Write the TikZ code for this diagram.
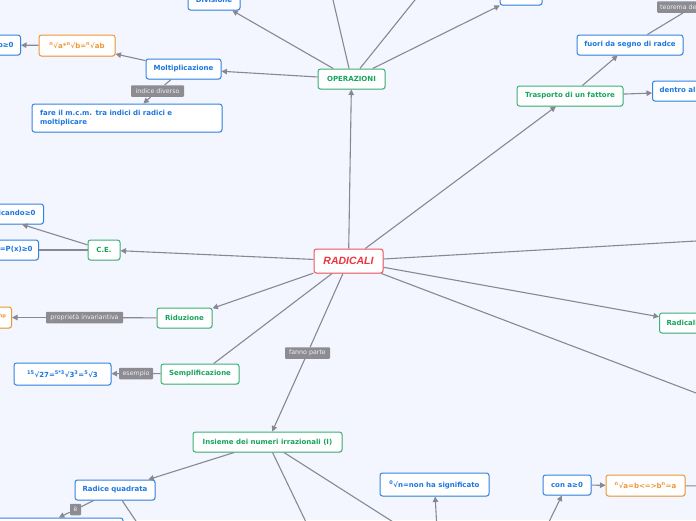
\documentclass[tikz,border=0pt]{standalone}
\usepackage{fontspec}
\setmainfont{DejaVu Sans}
\newfontfamily\radfont{Liberation Sans}
\usetikzlibrary{arrows.meta,shadows}
\definecolor{bg}{RGB}{243,246,254}
\definecolor{grn}{RGB}{24,163,92}
\definecolor{blu}{RGB}{28,118,224}
\definecolor{org}{RGB}{240,150,52}
\definecolor{rd}{RGB}{238,52,62}
\definecolor{labg}{RGB}{140,140,146}
\definecolor{lc}{RGB}{136,136,148}
\tikzset{
  box/.style={draw, rounded corners=2.5pt, fill=white, line width=1pt, inner sep=0pt,
    font=\bfseries\fontsize{7}{9}\selectfont,
    drop shadow={shadow xshift=0.6pt,shadow yshift=-0.9pt,opacity=0.18}},
  gbox/.style={box, draw=grn!85, text=grn},
  bbox/.style={box, draw=blu!90, text=blu},
  obox/.style={box, draw=org, text=org},
  rbox/.style={box, draw=rd!85, text=rd, font=\radfont\bfseries\itshape\fontsize{10.5}{12}\selectfont},
  lab/.style={fill=labg, text=white!94!black, font=\fontsize{6.3}{7}\selectfont, inner sep=0pt,
    minimum height=11.5, rounded corners=0.8pt},
  conn/.style={draw=lc, line width=1.1pt},
  arr/.style={conn, -{Triangle[length=5.5pt,width=5.5pt]}}
}
\begin{document}
\begin{tikzpicture}[x=1pt,y=-1pt]
\fill[bg] (0,0) rectangle (696,520);
\useasboundingbox (0,0) rectangle (696,520);
\clip (0,0) rectangle (696,520);

% nodes
\node[rbox, minimum width=69, minimum height=24] (rad) at (348.5,261) {RADICALI};
\node[gbox, minimum width=67, minimum height=20] (ops) at (351.5,79) {OPERAZIONI};
\node[bbox, minimum width=52, minimum height=20] (div) at (214,0) {Divisione};
\node[bbox, minimum width=42, minimum height=20] (topn) at (521,-5) {};
\node[bbox, minimum width=75, minimum height=20] (molt) at (183.5,69) {Moltiplicazione};
\node[obox, minimum width=76, minimum height=21] (or1) at (77,45.5) {\textsuperscript{n}√a*\textsuperscript{n}√b=\textsuperscript{n}√ab};
\node[bbox, anchor=east, minimum height=20, inner xsep=7pt] (lft1) at (21,45) {con a≥0 e b≥0};
\node[lab, minimum width=53] (lab1) at (157.5,91) {indice diverso};
\node[bbox, minimum width=190, minimum height=28, text width=174, align=left] (fare) at (127,118)
  {fare il m.c.m. tra indici di radici e\\moltiplicare};

\node[gbox, minimum width=106, minimum height=20] (tras) at (570,96) {Trasporto di un fattore};
\node[bbox, minimum width=106, minimum height=20] (fuori) at (630,45) {fuori da segno di radce};
\node[lab, anchor=west, inner xsep=3pt] (teo) at (657,7) {teorema della radice};
\node[bbox, anchor=west, minimum height=20, inner xsep=7pt] (dentro) at (652,91) {dentro al segno di radice};

\node[gbox, minimum width=32, minimum height=20] (ce) at (104,250) {C.E.};
\node[bbox, anchor=east, minimum height=20, inner xsep=8pt] (radic) at (44,214) {indice pari radicando≥0};
\node[bbox, anchor=east, minimum height=20, inner xsep=6pt] (px) at (39,250) {n pari=P(x)≥0};

\node[gbox, minimum width=55, minimum height=20] (rid) at (184.5,318) {Riduzione};
\node[lab, minimum width=77] (lab2) at (84.5,317.5) {proprietà invariantiva};
\node[obox, anchor=east, minimum height=21, inner xsep=5pt] (or2) at (12,317.5)
  {\textsuperscript{n}√a\textsuperscript{m}=\textsuperscript{np}√a\textsuperscript{mp}};

\node[gbox, minimum width=78, minimum height=20] (semp) at (200,374) {Semplificazione};
\node[lab, minimum width=34] (lab3) at (136,373.5) {esempio};
\node[bbox, minimum width=97, minimum height=22] (ex) at (62.5,374)
  {\textsuperscript{15}√27=\textsuperscript{5*3}√3\textsuperscript{3}=\textsuperscript{5}√3};

\node[lab, minimum width=45] (lab4) at (307.5,353) {fanno parte};
\node[gbox, minimum width=149, minimum height=20] (ins) at (267.5,442) {Insieme dei numeri irrazionali (I)};
\node[bbox, minimum width=80, minimum height=20] (rq) at (115,490) {Radice quadrata};
\node[lab, minimum width=11] (lab5) at (75.5,509.5) {è};
\node[bbox, minimum width=176, minimum height=22] (below) at (35,529) {};
\node[bbox, minimum width=109, minimum height=23] (zero) at (434.5,484.5) {\textsuperscript{0}√n=non ha significato};
\node[bbox, minimum width=48, minimum height=20] (con) at (567,485) {con a≥0};
\node[obox, minimum width=79, minimum height=21] (or3) at (645.5,485.5) {\textsuperscript{n}√a=b<=>b\textsuperscript{n}=a};
\node[gbox, anchor=west, minimum height=20, inner xsep=7pt] (radR) at (659,323) {Radicali simili};

% free ends
\coordinate (c1) at (330.7,-10);
\coordinate (c2) at (423,-10);
\coordinate (c3) at (710,240.2);
\coordinate (c4) at (710,398.3);
\coordinate (c5) at (309.8,530);
\coordinate (c6) at (405.7,530);
\coordinate (c7) at (437,530);
\coordinate (c8) at (545,530);
\coordinate (c9) at (710,486);
\coordinate (c10) at (142,530);
\coordinate (c11) at (720,-8);

% connectors
\draw[arr] (rad) -- (ops);
\draw[arr] (ops) -- (div);
\draw[conn] (ops) -- (c1);
\draw[conn] (ops) -- (c2);
\draw[arr] (ops) -- (topn);
\draw[arr] (ops) -- (molt);
\draw[arr] (molt) -- (or1);
\draw[arr] (or1) -- (lft1);
\draw[conn] (molt) -- (lab1);
\draw[arr] (lab1) -- (fare);

\draw[arr] (rad) -- (tras);
\draw[arr] (tras) -- (fuori);
\draw[arr] (tras) -- (dentro);
\draw[conn] (fuori) -- (teo);
\draw[conn] (teo) -- (c11);

\draw[conn] (rad) -- (c3);
\draw[arr] (rad) -- (radR);
\draw[conn] (rad) -- (c4);

\draw[arr] (rad) -- (ce);
\draw[arr] (ce) -- (radic);
\draw[conn] (ce) -- (px);

\draw[arr] (rad) -- (rid);
\draw[conn] (rid) -- (lab2);
\draw[arr] (lab2) -- (or2);

\draw[conn] (rad) -- (semp);
\draw[conn] (semp) -- (lab3);
\draw[arr] (lab3) -- (ex);

\draw[conn] (rad) -- (lab4);
\draw[arr] (lab4) -- (ins);
\draw[arr] (ins) -- (rq);
\draw[conn] (ins) -- (c5);
\draw[conn] (ins) -- (c6);
\draw[arr] (c7) -- (zero);
\draw[arr] (c8) -- (con);
\draw[arr] (con) -- (or3);
\draw[conn] (or3) -- (c9);
\draw[conn] (rq) -- (lab5);
\draw[arr] (lab5) -- (below);
\draw[conn] (rq) -- (c10);
\end{tikzpicture}
\end{document}
